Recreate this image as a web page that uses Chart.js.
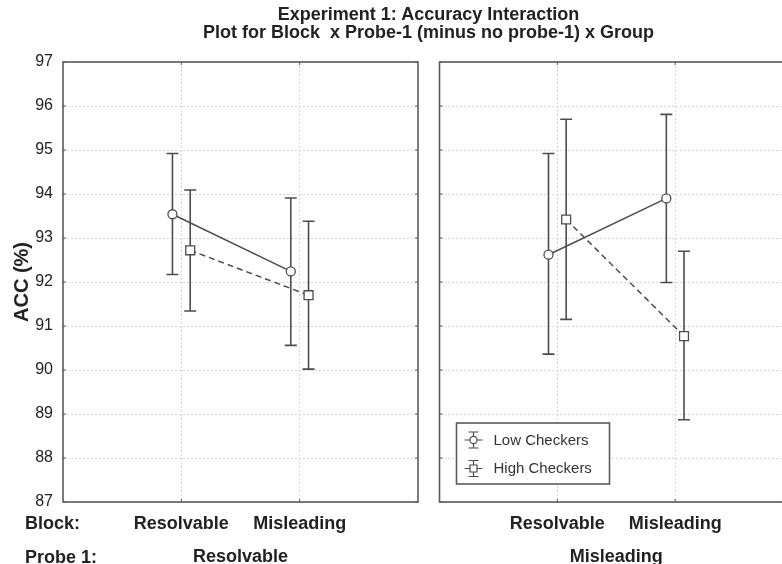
<!DOCTYPE html>
<html><head><meta charset="utf-8">
<script src="https://cdn.jsdelivr.net/npm/chart.js@4.4.0/dist/chart.umd.min.js"></script>
<style>
html,body{margin:0;padding:0;overflow:hidden;background:#fff;width:782px;height:564px;}
#wrapL{position:absolute;left:0;top:0;width:420px;height:564px;}
#wrapR{position:absolute;left:438px;top:0;width:355px;height:564px;}
.lbl{position:absolute;font:bold 18px "Liberation Sans",Arial,sans-serif;color:#222;white-space:pre;z-index:5;line-height:20px;}
#title{left:63px;width:731px;top:6px;text-align:center;line-height:17.5px;}
</style></head><body>
<div id="wrapL"><canvas id="cL"></canvas></div>
<div id="wrapR"><canvas id="cR"></canvas></div>
<div id="title" class="lbl">Experiment 1: Accuracy Interaction
Plot for Block  x Probe-1 (minus no probe-1) x Group</div>
<div class="lbl" style="left:25px;top:513px">Block:</div>
<div class="lbl" style="left:25px;top:547px">Probe 1:</div>
<script>
// ---- data ----
const blockLabels = ['Resolvable', 'Misleading'];
const probeLabels = ['Resolvable', 'Misleading'];
const seriesNames = ['Low Checkers', 'High Checkers'];
const yMin = 87, yMax = 97;

// Probe 1 = Resolvable panel (values per Block)
const lowMean_ProbeRes  = [93.54, 92.24];
const lowUpper_ProbeRes = [94.92, 93.91];
const lowLower_ProbeRes = [92.17, 90.56];
const highMean_ProbeRes  = [92.72, 91.70];
const highUpper_ProbeRes = [94.09, 93.38];
const highLower_ProbeRes = [91.34, 90.02];

// Probe 1 = Misleading panel (values per Block)
const lowMean_ProbeMis  = [92.62, 93.90];
const lowUpper_ProbeMis = [94.92, 95.81];
const lowLower_ProbeMis = [90.36, 91.99];
const highMean_ProbeMis  = [93.42, 90.77];
const highUpper_ProbeMis = [95.70, 92.70];
const highLower_ProbeMis = [91.15, 88.87];

const FF = '"Liberation Sans", Arial, sans-serif';
const TXT = '#222';
const LINE = '#4d4d4d';
const GROUP_OFFSET = [-0.075, 0.075];

function pts(means, g) {
  return means.map((m, i) => ({ x: i + 1 + GROUP_OFFSET[g], y: m }));
}

const framePlugin = {
  id: 'frame',
  beforeDatasetsDraw(chart) {
    const { ctx, chartArea: a, scales: { x, y } } = chart;
    ctx.save();
    ctx.strokeStyle = '#5a5a5a';
    ctx.lineWidth = 1.6;
    ctx.strokeRect(a.left, a.top, a.right - a.left, a.bottom - a.top);
    ctx.lineWidth = 1;
    ctx.beginPath();
    y.ticks.forEach(t => {
      const py = y.getPixelForValue(t.value);
      ctx.moveTo(a.left, py); ctx.lineTo(a.left + 3, py);
      ctx.moveTo(a.right, py); ctx.lineTo(a.right - 3, py);
    });
    x.ticks.forEach(t => {
      const px = x.getPixelForValue(t.value);
      ctx.moveTo(px, a.bottom); ctx.lineTo(px, a.bottom - 3);
      ctx.moveTo(px, a.top); ctx.lineTo(px, a.top + 3);
    });
    ctx.stroke();
    ctx.restore();
  }
};

const errorBarPlugin = {
  id: 'errorBars',
  beforeDatasetsDraw(chart) {
    const { ctx, scales: { x, y } } = chart;
    ctx.save();
    ctx.strokeStyle = LINE;
    ctx.lineWidth = 1.6;
    chart.data.datasets.forEach(ds => {
      ds.data.forEach((p, i) => {
        const px = x.getPixelForValue(p.x);
        const top = y.getPixelForValue(ds.upper[i]);
        const bot = y.getPixelForValue(ds.lower[i]);
        ctx.beginPath();
        ctx.moveTo(px, top); ctx.lineTo(px, bot);
        ctx.moveTo(px - 6, top); ctx.lineTo(px + 6, top);
        ctx.moveTo(px - 6, bot); ctx.lineTo(px + 6, bot);
        ctx.stroke();
      });
    });
    ctx.restore();
  }
};

const legendPlugin = {
  id: 'boxLegend',
  afterDatasetsDraw(chart, args, opts) {
    if (!opts.show) return;
    const { ctx, chartArea: a } = chart;
    const bx = a.left + 17, by = a.bottom - 79, bw = 153, bh = 61;
    ctx.save();
    ctx.fillStyle = '#fff';
    ctx.fillRect(bx, by, bw, bh);
    ctx.strokeStyle = '#5a5a5a';
    ctx.lineWidth = 1.6;
    ctx.strokeRect(bx, by, bw, bh);
    chart.data.datasets.forEach((ds, i) => {
      const cy = by + 17 + i * 28.5;
      const ix = bx + 17;
      ctx.strokeStyle = LINE;
      ctx.lineWidth = 1.2;
      ctx.beginPath();
      ctx.moveTo(ix, cy - 8); ctx.lineTo(ix, cy + 8);
      ctx.moveTo(ix - 5, cy - 8); ctx.lineTo(ix + 5, cy - 8);
      ctx.moveTo(ix - 5, cy + 8); ctx.lineTo(ix + 5, cy + 8);
      ctx.moveTo(ix - 9, cy); ctx.lineTo(ix + 9, cy);
      ctx.stroke();
      ctx.fillStyle = '#fff';
      ctx.beginPath();
      if (ds.pointStyle === 'rect') ctx.rect(ix - 3.5, cy - 3.5, 7, 7);
      else ctx.arc(ix, cy, 3.6, 0, Math.PI * 2);
      ctx.fill(); ctx.stroke();
      ctx.fillStyle = '#333';
      ctx.font = '15px ' + FF;
      ctx.textBaseline = 'middle';
      ctx.textAlign = 'left';
      ctx.fillText(ds.label, bx + 37, cy + 0.5);
    });
    ctx.restore();
  }
};

function makeChart(id, panel, isLeft) {
  const low = panel === 0 ? [lowMean_ProbeRes, lowUpper_ProbeRes, lowLower_ProbeRes]
                          : [lowMean_ProbeMis, lowUpper_ProbeMis, lowLower_ProbeMis];
  const high = panel === 0 ? [highMean_ProbeRes, highUpper_ProbeRes, highLower_ProbeRes]
                           : [highMean_ProbeMis, highUpper_ProbeMis, highLower_ProbeMis];
  const gridOpts = { color: '#d6d6d6', lineWidth: 1, drawTicks: false };
  return new Chart(document.getElementById(id), {
    type: 'line',
    data: {
      datasets: [
        { label: seriesNames[0], data: pts(low[0], 0), upper: low[1], lower: low[2],
          borderColor: LINE, borderWidth: 1.5, pointStyle: 'circle', pointRadius: 4.5,
          pointBackgroundColor: '#fff', pointBorderColor: LINE, pointBorderWidth: 1.3 },
        { label: seriesNames[1], data: pts(high[0], 1), upper: high[1], lower: high[2],
          borderColor: LINE, borderWidth: 1.5, borderDash: [6, 4], pointStyle: 'rect', pointRadius: 6.3,
          pointBackgroundColor: '#fff', pointBorderColor: LINE, pointBorderWidth: 1.3 }
      ]
    },
    options: {
      responsive: true, maintainAspectRatio: false, animation: false,
      layout: { autoPadding: false, padding: { top: 62, right: isLeft ? 2 : 0, left: 0, bottom: 0 } },
      plugins: { legend: { display: false }, tooltip: { enabled: false }, title: { display: false },
                 boxLegend: { show: !isLeft } },
      scales: {
        x: {
          type: 'linear', min: 0, max: 3,
          afterBuildTicks: s => { s.ticks = blockLabels.map((b, i) => ({ value: i + 1 })); },
          afterFit: s => { s.height = 62; },
          grid: gridOpts,
          border: { display: false, dash: [2, 2] },
          ticks: { padding: 11, color: TXT, autoSkip: false, maxRotation: 0,
                   font: { family: FF, size: 18, weight: 'bold' },
                   callback: (v, i) => blockLabels[i] },
          title: { display: true, text: probeLabels[panel], color: TXT,
                   font: { family: FF, size: 18, weight: 'bold', lineHeight: 0.8 },
                   padding: { top: 0, bottom: 0 } }
        },
        y: {
          min: yMin, max: yMax,
          afterFit: s => { s.width = isLeft ? 63 : 1.5; },
          grid: gridOpts,
          border: { display: false, dash: [2, 2] },
          ticks: { display: isLeft, stepSize: 1, padding: 10, color: TXT,
                   font: { family: FF, size: 16 } },
          title: { display: isLeft, text: 'ACC (%)', color: TXT,
                   font: { family: FF, size: 20, weight: 'bold', lineHeight: 1.2 },
                   padding: { top: 10, bottom: 0 } }
        }
      }
    },
    plugins: [framePlugin, errorBarPlugin, legendPlugin]
  });
}

makeChart('cL', 0, true);
makeChart('cR', 1, false);
</script>
</body></html>
